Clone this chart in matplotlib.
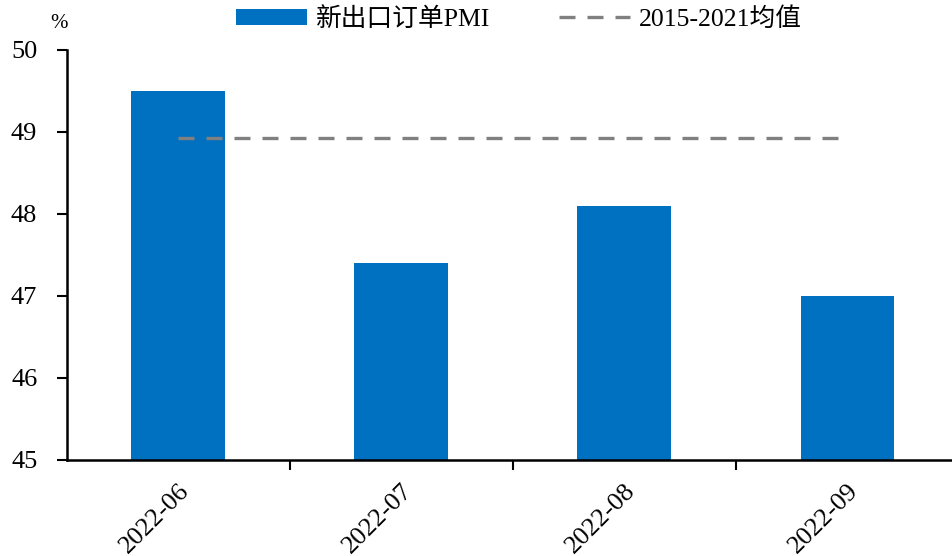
import matplotlib
matplotlib.use("Agg")
import matplotlib.pyplot as plt
from matplotlib.ticker import FixedLocator

plt.rcParams['font.family'] = ['Liberation Serif', 'Noto Sans CJK SC']

months = ["2022-06", "2022-07", "2022-08", "2022-09"]
export_orders_pmi = [49.5, 47.4, 48.1, 47.0]
avg_2015_2021 = 48.93
bar_label = "新出口订单PMI"
avg_label = "2015-2021均值"

fig = plt.figure(figsize=(9.52, 5.56), dpi=100)
ax = fig.add_axes([66.5 / 952, 1 - 460 / 556, (959 - 66.5) / 952, 410 / 556])

x = list(range(len(months)))
bars = ax.bar(x, [v - 45 for v in export_orders_pmi], bottom=45, width=0.42,
              color="#0070C0", label=bar_label, zorder=2)
line, = ax.plot([x[0], x[-1]], [avg_2015_2021, avg_2015_2021], color="#808080",
                lw=2.4, dashes=(4.8, 3.6), label=avg_label, zorder=3)

ax.set_xlim(-0.5, len(months) - 0.5)
ax.set_ylim(45, 50)
ax.set_yticks([45, 46, 47, 48, 49, 50])
ax.tick_params(axis='y', direction='out', length=7, width=1.5, labelsize=19, pad=14)

ax.set_xticks(x)
ax.set_xticklabels(months, rotation=45, ha='right', rotation_mode='anchor', fontsize=19)
ax.tick_params(axis='x', length=0, pad=14)
ax.xaxis.set_minor_locator(FixedLocator([0.5, 1.5, 2.5]))
ax.tick_params(axis='x', which='minor', direction='out', length=7, width=1.5)

for s in ['top', 'right']:
    ax.spines[s].set_visible(False)
for s in ['left', 'bottom']:
    ax.spines[s].set_linewidth(1.8)

fig.text(59 / 952, 1 - 24 / 556, "%", fontsize=15, ha='center', va='center')

leg = fig.legend(handles=[bars, line], labels=[bar_label, avg_label],
                 loc='center', bbox_to_anchor=(519 / 952, 1 - 19 / 556), ncol=2,
                 frameon=False, fontsize=18.5, handlelength=2.75, handleheight=0.55,
                 columnspacing=2.7, handletextpad=0.35, borderpad=0)

fig.savefig("out.png", dpi=100)
